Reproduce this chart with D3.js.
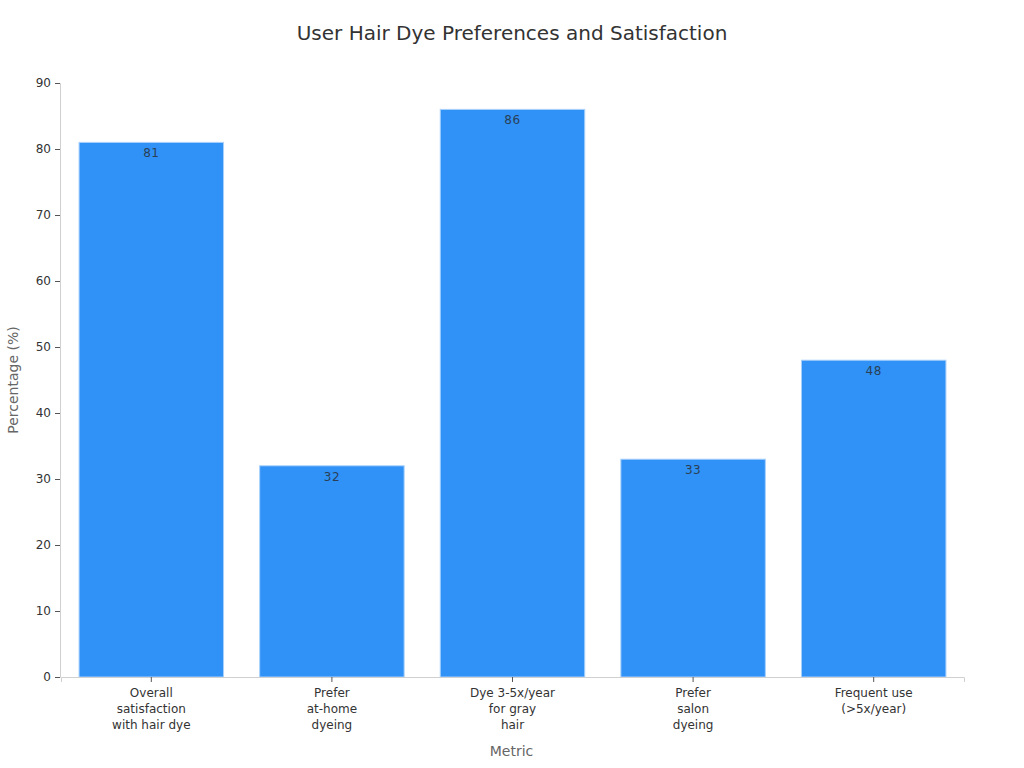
<!DOCTYPE html>
<html>
<head>
<meta charset="utf-8">
<script src="https://cdn.jsdelivr.net/npm/d3@7"></script>
<style>
  body { margin: 0; background: #fff; }
  text { font-family: "DejaVu Sans", sans-serif; }
</style>
</head>
<body>
<div id="chart"></div>
<script>
// Data
const categories = [
    "Overall satisfaction with hair dye",
    "Prefer at-home dyeing",
    "Dye 3-5x/year for gray hair",
    "Prefer salon dyeing",
    "Frequent use (>5x/year)"
]
const categoryLines = [
    ["Overall", "satisfaction", "with hair dye"],
    ["Prefer", "at-home", "dyeing"],
    ["Dye 3-5x/year", "for gray", "hair"],
    ["Prefer", "salon", "dyeing"],
    ["Frequent use", "(>5x/year)"]
]
const values = [81, 32, 86, 33, 48]
const yTicks = [0, 10, 20, 30, 40, 50, 60, 70, 80, 90]

const data = categories.map((c, i) => ({ category: c, lines: categoryLines[i], value: values[i] }))

// Dimensions
const dimensions = {
    width: 1024,
    height: 768,
    margins: { top: 83, right: 61, bottom: 91, left: 60 }
}
dimensions.boundedWidth = dimensions.width - dimensions.margins.left - dimensions.margins.right
dimensions.boundedHeight = dimensions.height - dimensions.margins.top - dimensions.margins.bottom

const wrapper = d3.select("#chart").append("svg")
    .attr("width", dimensions.width)
    .attr("height", dimensions.height)

const bounds = wrapper.append("g")
    .attr("transform", `translate(${dimensions.margins.left},${dimensions.margins.top})`)

// Scales
const xScale = d3.scaleBand()
    .domain(categories)
    .range([1, dimensions.boundedWidth + 1])
    .paddingInner(0.2)
    .paddingOuter(0.1)

const yScale = d3.scaleLinear()
    .domain([0, 90])
    .range([dimensions.boundedHeight, 0])

// Bars
bounds.selectAll("rect.bar")
    .data(data)
    .enter().append("rect")
    .attr("class", "bar")
    .attr("x", d => xScale(d.category))
    .attr("y", d => yScale(d.value))
    .attr("width", xScale.bandwidth())
    .attr("height", d => dimensions.boundedHeight - yScale(d.value))
    .attr("fill", "#3092f7")
    .attr("stroke", "#a8d0fb")
    .attr("stroke-width", 1)

// Value labels
bounds.selectAll("text.value")
    .data(data)
    .enter().append("text")
    .attr("class", "value")
    .attr("x", d => xScale(d.category) + xScale.bandwidth() / 2)
    .attr("y", d => yScale(d.value) + 15)
    .attr("text-anchor", "middle")
    .attr("font-size", "12px")
    .attr("letter-spacing", "0.5px")
    .attr("fill", "#2a3f55")
    .text(d => d.value)

// Axes
const yAxis = bounds.append("g")
    .call(d3.axisLeft(yScale).tickValues(yTicks).tickSizeOuter(0).tickSize(5).tickPadding(4))
yAxis.select(".domain").attr("stroke", "#d0d0d0")
yAxis.selectAll(".tick line").attr("stroke", "#555")
yAxis.selectAll(".tick text")
    .attr("font-size", "12px")
    .attr("fill", "#333")
    .style("font-family", "DejaVu Sans, sans-serif")

const xAxis = bounds.append("g")
    .attr("transform", `translate(0,${dimensions.boundedHeight})`)
    .call(d3.axisBottom(xScale).tickSizeOuter(0).tickSize(5).tickFormat(""))
xAxis.select(".domain").attr("stroke", "#d0d0d0")
xAxis.selectAll(".tick line").attr("stroke", "#555")

xAxis.selectAll(".tick")
    .data(data)
    .append("text")
    .attr("fill", "#333")
    .attr("font-size", "12px")
    .attr("text-anchor", "middle")
    .style("font-family", "DejaVu Sans, sans-serif")
    .selectAll("tspan")
    .data(d => d.lines)
    .enter().append("tspan")
    .attr("x", 0)
    .attr("y", (d, i) => 20 + i * 16)
    .text(d => d)

// Axis labels
wrapper.append("text")
    .attr("x", dimensions.margins.left + dimensions.boundedWidth / 2)
    .attr("y", 756)
    .attr("text-anchor", "middle")
    .attr("font-size", "14px")
    .attr("fill", "#666")
    .text("Metric")

wrapper.append("text")
    .attr("transform", `translate(18,${dimensions.margins.top + dimensions.boundedHeight / 2}) rotate(-90)`)
    .attr("text-anchor", "middle")
    .attr("font-size", "14px")
    .attr("fill", "#666")
    .text("Percentage (%)")

// Title
wrapper.append("text")
    .attr("x", 512)
    .attr("y", 40)
    .attr("text-anchor", "middle")
    .attr("font-size", "20px")
    .attr("fill", "#333")
    .text("User Hair Dye Preferences and Satisfaction")
</script>
</body>
</html>
